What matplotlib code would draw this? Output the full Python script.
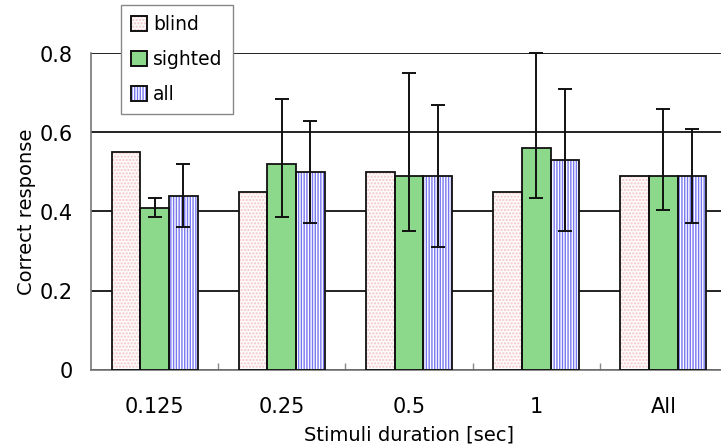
import matplotlib
matplotlib.use("Agg")
import matplotlib.pyplot as plt
from matplotlib.patches import Patch
import numpy as np

categories = ["0.125", "0.25", "0.5", "1", "All"]
series_names = ["blind", "sighted", "all"]
blind = [0.55, 0.45, 0.50, 0.45, 0.49]
sighted = [0.41, 0.52, 0.49, 0.56, 0.49]
all_ = [0.44, 0.50, 0.49, 0.53, 0.49]
sighted_lo = [0.385, 0.385, 0.35, 0.435, 0.405]
sighted_hi = [0.435, 0.685, 0.75, 0.80, 0.66]
all_lo = [0.36, 0.37, 0.31, 0.35, 0.37]
all_hi = [0.52, 0.63, 0.67, 0.71, 0.61]
yticks = [0, 0.2, 0.4, 0.6, 0.8]
ytick_labels = ["0", "0.2", "0.4", "0.6", "0.8"]

plt.rcParams['font.family'] = ['DejaVu Sans']
plt.rcParams['hatch.linewidth'] = 1.0

fig = plt.figure(figsize=(7.21, 4.48), dpi=100)
ax = fig.add_axes([91/721, (448-369.5)/448, 636/721, (369.5-53.5)/448])

x = np.arange(len(categories))
w = 0.225

styles = [
    dict(face="#fefafa", hatch=".....", hcol="#f2c4ca"),
    dict(face="#8cd98c", hatch=None, hcol=None),
    dict(face="white", hatch="||||||", hcol="#7878f0"),
]
data = [blind, sighted, all_]
handles = []
for i, (vals, st) in enumerate(zip(data, styles)):
    pos = x + (i - 1) * w
    if st["hatch"]:
        ax.bar(pos, vals, w, color=st["face"], hatch=st["hatch"],
               edgecolor=st["hcol"], linewidth=0, zorder=2)
    else:
        ax.bar(pos, vals, w, color=st["face"], linewidth=0, zorder=2)
    ax.bar(pos, vals, w, fill=False, edgecolor="#111111", linewidth=1.3, zorder=3)
    hp = Patch(facecolor=st["face"], hatch=st["hatch"],
               edgecolor=st["hcol"] if st["hcol"] else st["face"], linewidth=0)
    op = Patch(fill=False, edgecolor="#111111", linewidth=1.4)
    handles.append((hp, op))

for i, (vals, lo, hi) in [(1, (sighted, sighted_lo, sighted_hi)), (2, (all_, all_lo, all_hi))]:
    pos = x + (i - 1) * w
    v = np.array(vals)
    yerr = np.vstack([v - np.array(lo), np.array(hi) - v])
    ax.errorbar(pos, v, yerr=yerr, fmt="none", ecolor="#111111",
                elinewidth=1.4, capsize=4.8, capthick=1.4, zorder=4, clip_on=False)

ax.set_xlim(-0.5, 4.5)
ax.set_ylim(0, 0.8)
ax.set_yticks(yticks)
ax.set_yticklabels(ytick_labels)
ax.yaxis.grid(True, color="#111111", linewidth=1.3, zorder=0)
ax.set_axisbelow(True)
ax.tick_params(axis="y", length=0, labelsize=15, pad=13)
ax.set_xticks(x)
ax.set_xticklabels(categories)
ax.tick_params(axis="x", which="major", length=0, labelsize=15, pad=20)
ax.set_xticks(np.append(x[:-1] + 0.5, 4.5), minor=True)
ax.tick_params(axis="x", which="minor", direction="in", length=5, color="#888888", width=1)

for s in ["top", "right"]:
    ax.spines[s].set_visible(False)
ax.spines["left"].set_color("#777777")
ax.spines["bottom"].set_color("#777777")
ax.spines["left"].set_linewidth(1.2)
ax.spines["bottom"].set_linewidth(1.2)

ax.set_xlabel("Stimuli duration [sec]", fontsize=14, labelpad=6)
ax.set_ylabel("Correct response", fontsize=14, labelpad=3)

leg = ax.legend(handles, series_names, loc="upper left",
                bbox_to_anchor=(121/721, 1 - 5/448), bbox_transform=fig.transFigure,
                borderaxespad=0, fontsize=13.5, frameon=True, fancybox=False,
                edgecolor="#888888", framealpha=1, handlelength=0.85, handleheight=0.85,
                handletextpad=0.3, labelspacing=0.85, borderpad=0.55)
leg.get_frame().set_linewidth(1.0)
leg.set_zorder(10)

fig.savefig("out.png", dpi=100)
